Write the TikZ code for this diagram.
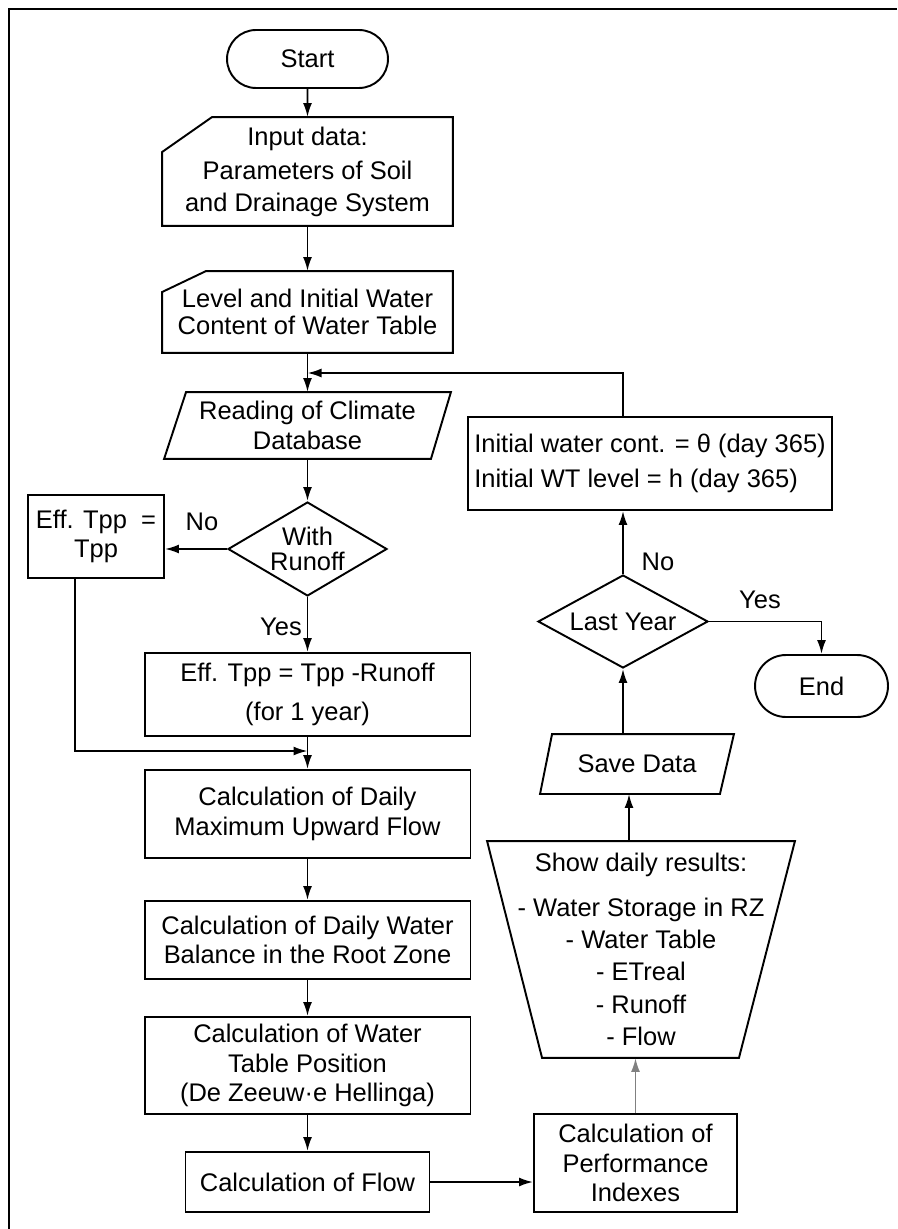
\documentclass[tikz,border=0pt]{standalone}
\usepackage{fontspec}
\setmainfont{Liberation Sans}
\usetikzlibrary{shapes.geometric,shapes.misc,arrows.meta,calc,graphs}

\begin{document}
\begin{tikzpicture}[x=0.02cm, y=-0.02cm, line width=1.1pt, >={Latex[length=2.8mm,width=1.8mm]},
    every node/.style={font=\fontsize{14.5}{16.8}\selectfont, inner sep=0pt},
    proc/.style={draw, rectangle, align=center},
    term/.style={draw, rounded rectangle, minimum width=3.22cm, minimum height=1.16cm},
    dec/.style={draw, diamond, align=center},
    bare/.style={align=center}]
                    \useasboundingbox (0,0) rectangle (897,1229);
                    \draw[line width=1.2pt] (9,1229) -- (9,9) -- (897,9);

                    % left column
                    \node[term] (start) at (307.5,59) {Start};
                    \node[bare, minimum width=5.78cm, minimum height=2.14cm] (inp) at (307.5,171.5)
                        {Input data:\\[3pt]Parameters of Soil\\[1pt]and Drainage System};
                    \node[bare, minimum width=5.78cm, minimum height=1.6cm] (lev) at (307.5,312)
                        {Level and Initial Water\\[-1.5pt]Content of Water Table};
                    \node[bare, minimum width=5.7cm, minimum height=1.3cm] (read) at (307.5,425.5)
                        {Reading of Climate\\Database};
                    \node[dec, aspect=1.7, minimum width=3.18cm, minimum height=1.88cm] (runoff) at (307.5,549)
                        {With\\[-2.5pt]Runoff};
                    \node[proc, minimum width=2.72cm, minimum height=1.66cm] (effa) at (96,536.5)
                        {Eff. Tpp\ \ =\\Tpp};
                    \node[proc, minimum width=6.52cm, minimum height=1.66cm] (effb) at (307.5,694.5)
                        {Eff. Tpp = Tpp -Runoff\\[5.5pt](for 1 year)};
                    \node[proc, minimum width=6.52cm, minimum height=1.76cm] (calcmax) at (307.5,814)
                        {Calculation of Daily\\Maximum Upward Flow};
                    \node[proc, minimum width=6.52cm, minimum height=1.56cm] (calcbal) at (307.5,940)
                        {Calculation of Daily Water\\Balance in the Root Zone};
                    \node[proc, minimum width=6.52cm, minimum height=1.94cm] (calcwt) at (307.5,1065.5)
                        {Calculation of Water\\Table Position\\(De Zeeuw·e Hellinga)};
                    \node[proc, minimum width=4.88cm, minimum height=1.2cm] (calcflow) at (307.5,1182)
                        {Calculation of Flow};

                    % right column
                    \node[proc, minimum width=4.06cm, minimum height=1.96cm] (perf) at (635.5,1163)
                        {Calculation of\\Performance\\Indexes};
                    \node[bare, minimum width=6.12cm, minimum height=4.3cm, font=\fontsize{14.5}{18.4}\selectfont] (show) at (641,949.5)
                        {Show daily results:\\[7pt]- Water Storage in RZ\\- Water Table\\- ETreal\\- Runoff\\- Flow};
                    \node[bare, minimum width=3.84cm, minimum height=1.16cm] (save) at (637,764) {Save Data};
                    \node[dec, aspect=1.83, minimum width=3.4cm, minimum height=1.86cm] (lasty) at (623,621.5) {Last Year};
                    \node[term, minimum width=2.66cm, minimum height=1.24cm] (fin) at (821.5,686) {End};
                    \node[proc, align=left, minimum width=7.28cm, minimum height=1.86cm] (init) at (650,463.5)
                        {Initial water cont. = θ (day 365)\\[3.4pt]Initial WT level = h (day 365)};

                    % outlines of the slanted shapes
                    \draw (inp.south west) -- ($(inp.north west)+(0,35)$) -- ($(inp.north west)+(50,0)$)
                        -- (inp.north east) -- (inp.south east) -- cycle;
                    \draw (lev.south west) -- ($(lev.north west)+(0,21)$) -- ($(lev.north west)+(44,0)$)
                        -- (lev.north east) -- (lev.south east) -- cycle;
                    \draw (read.south west) -- ($(read.north west)+(22,0)$) -- (read.north east)
                        -- ($(read.south east)+(-20,0)$) -- cycle;
                    \draw (show.north west) -- (show.north east) -- ($(show.south east)+(-56,0)$)
                        -- ($(show.south west)+(55,0)$) -- cycle;
                    \draw (save.south west) -- ($(save.north west)+(12,0)$) -- (save.north east)
                        -- ($(save.south east)+(-14,0)$) -- cycle;

                    % labels
                    \node (no1) at (202,522) {No};
                    \node (yes1) at (281,627) {Yes};
                    \node (no2) at (658,562) {No};
                    \node (yes2) at (760,600) {Yes};

                    \coordinate (back) at (307.5,373);
                    \coordinate (merge) at (307.5,751);
                    \coordinate (showtop) at (629,842);

                    \graph {
                        (start) -> (inp) -> (lev) -> (read) -> (runoff) -> (effb) -> (calcmax)
                            -> (calcbal) -> (calcwt) -> (calcflow);
                    };

                    \draw[->] (runoff.west) -- (runoff.west -| effa.east);
                    \draw[->] ($(effa.south)+(-21,0)$) |- (merge);
                    \draw[->] (calcflow.east) -- (calcflow.east -| perf.west);
                    \draw[->, gray] (perf.north) -- (perf.north |- show.south);
                    \draw[->] (showtop) -- (showtop |- save.south);
                    \draw[->] (lasty.south |- save.north) -- (lasty.south);
                    \draw[->] (lasty.north) -- (lasty.north |- init.south);
                    \draw[->] (lasty.east) -| (fin.north);
                    \draw[->] (init.north -| lasty.north) |- (back);
                \end{tikzpicture}
\end{document}
